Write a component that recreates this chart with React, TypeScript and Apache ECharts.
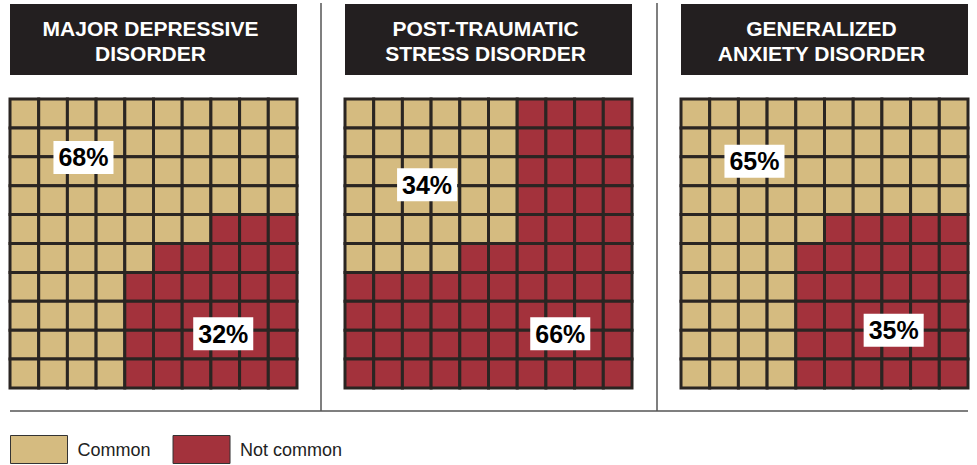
import React, { useEffect, useRef } from "react";
import * as echarts from "echarts";

// ---- data ----
const panelTitles = ["MAJOR DEPRESSIVE\nDISORDER", "POST-TRAUMATIC\nSTRESS DISORDER", "GENERALIZED\nANXIETY DISORDER"];
const commonPct = [68, 34, 65];
const notCommonPct = [32, 66, 35];
// number of "Common" cells in each row (top to bottom) of the 10x10 waffle, left-aligned
const mddCommonPerRow = [10, 10, 10, 10, 7, 5, 4, 4, 4, 4];
const ptsdCommonPerRow = [6, 6, 6, 6, 6, 4, 0, 0, 0, 0];
const gadCommonPerRow = [10, 10, 10, 10, 5, 4, 4, 4, 4, 4];
const commonPerRow = [mddCommonPerRow, ptsdCommonPerRow, gadCommonPerRow];
const legendNames = ["Common", "Not common"];

// ---- layout / style ----
const COLORS = { common: "#D5BB80", notCommon: "#A3323C", grid: "#2A2522", title: "#231F20" };
const FONT = '"Liberation Sans", Arial, Helvetica, sans-serif';
const panelLeft = [10, 345, 681];
const panelWidth = 287;
const gridTop = 99;
const gridHeight = 289;
// label anchors in cell units [x, y] for common / not-common labels
const commonLabelAt = [[2.56, 2.02], [2.86, 2.97], [2.56, 2.15]];
const notCommonLabelAt = [[7.43, 8.12], [7.5, 8.12], [7.41, 8.0]];

function buildOption() {
  const grids: any[] = [];
  const xAxes: any[] = [];
  const yAxes: any[] = [];
  const series: any[] = [];
  const graphic: any[] = [];

  const renderItem = (_params: any, api: any) => {
    const c = api.value(0);
    const r = api.value(1);
    const p0 = api.coord([c, r]);
    const p1 = api.coord([c + 1, r + 1]);
    return {
      type: "rect",
      shape: {
        x: Math.min(p0[0], p1[0]),
        y: Math.min(p0[1], p1[1]),
        width: Math.abs(p1[0] - p0[0]),
        height: Math.abs(p1[1] - p0[1]),
      },
      style: { fill: api.visual("color"), stroke: COLORS.grid, lineWidth: 3 },
    };
  };

  for (let i = 0; i < 3; i++) {
    grids.push({ left: panelLeft[i], top: gridTop, width: panelWidth, height: gridHeight });
    xAxes.push({ type: "value", gridIndex: i, min: 0, max: 10, show: false });
    yAxes.push({ type: "value", gridIndex: i, min: 0, max: 10, inverse: true, show: false });

    const commonCells: number[][] = [];
    const otherCells: number[][] = [];
    commonPerRow[i].forEach((n, r) => {
      for (let c = 0; c < 10; c++) {
        if (c < n) commonCells.push([c, r]);
        else otherCells.push([c, r]);
      }
    });

    series.push({
      type: "custom",
      name: legendNames[0],
      xAxisIndex: i,
      yAxisIndex: i,
      itemStyle: { color: COLORS.common },
      renderItem,
      encode: { x: 0, y: 1 },
      data: commonCells,
      silent: true,
    });
    series.push({
      type: "custom",
      name: legendNames[1],
      xAxisIndex: i,
      yAxisIndex: i,
      itemStyle: { color: COLORS.notCommon },
      renderItem,
      encode: { x: 0, y: 1 },
      data: otherCells,
      silent: true,
    });
    series.push({
      type: "scatter",
      name: "labels" + i,
      xAxisIndex: i,
      yAxisIndex: i,
      z: 10,
      symbolSize: 0,
      itemStyle: { color: "#fff", opacity: 1 },
      silent: true,
      data: [
        [commonLabelAt[i][0], commonLabelAt[i][1], commonPct[i] + "%"],
        [notCommonLabelAt[i][0], notCommonLabelAt[i][1], notCommonPct[i] + "%"],
      ],
      label: {
        show: true,
        position: "inside",
        formatter: (p: any) => p.value[2],
        color: "#000",
        opacity: 1,
        fontFamily: FONT,
        fontWeight: "bold",
        fontSize: 25,
        lineHeight: 25,
        backgroundColor: "#fff",
        padding: [4, 5, 4, 5],
      },
    });

    // title box
    graphic.push({
      type: "rect",
      left: panelLeft[i],
      top: 4,
      shape: { width: panelWidth, height: 71 },
      style: { fill: COLORS.title },
      z: 1,
    });
    graphic.push({
      type: "text",
      x: panelLeft[i] + panelWidth / 2 - 3,
      y: 41,
      z: 2,
      style: {
        text: panelTitles[i],
        fill: "#fff",
        font: `bold 21px ${FONT}`,
        lineHeight: 25,
        align: "center",
        verticalAlign: "middle",
      },
    });
  }

  // separators
  graphic.push({ type: "line", shape: { x1: 321, y1: 3, x2: 321, y2: 411 }, style: { stroke: "#555", lineWidth: 1.5 } });
  graphic.push({ type: "line", shape: { x1: 657, y1: 3, x2: 657, y2: 411 }, style: { stroke: "#555", lineWidth: 1.5 } });
  graphic.push({ type: "line", shape: { x1: 10, y1: 411, x2: 968, y2: 411 }, style: { stroke: "#555", lineWidth: 1.5 } });

  return {
    animation: false,
    backgroundColor: "#fff",
    grid: grids,
    xAxis: xAxes,
    yAxis: yAxes,
    series,
    graphic,
    legend: {
      data: legendNames,
      left: 10,
      top: 435,
      padding: 0,
      icon: "rect",
      itemWidth: 57,
      itemHeight: 28,
      itemGap: 22,
      selectedMode: false,
      itemStyle: { borderColor: "#333", borderWidth: 1 },
      textStyle: { fontFamily: FONT, fontSize: 18, color: "#222", padding: [0, 0, 0, 5] },
    },
  };
}

export default function App() {
  const ref = useRef<HTMLDivElement>(null);
  useEffect(() => {
    if (!ref.current) return;
    const chart = echarts.init(ref.current, undefined, { renderer: "svg" });
    chart.setOption(buildOption() as any);
    return () => chart.dispose();
  }, []);
  return <div ref={ref} style={{ position: "fixed", left: 0, top: 0, width: 977, height: 465 }} />;
}
